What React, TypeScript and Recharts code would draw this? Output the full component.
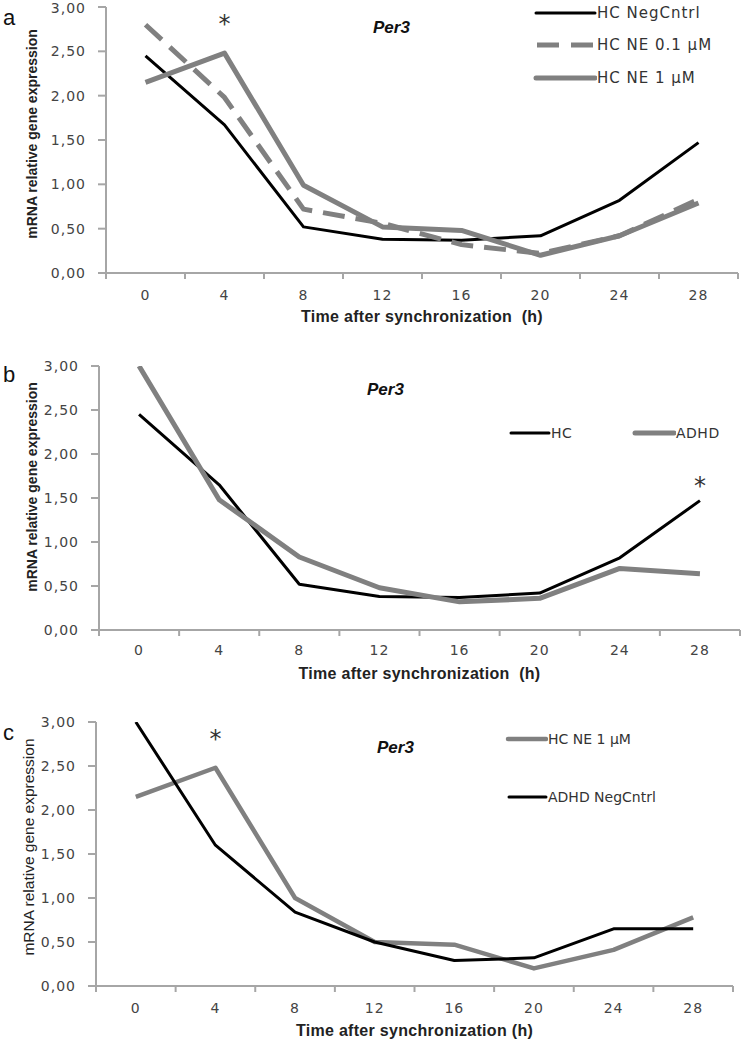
import { Label, Legend, Line, LineChart, ReferenceDot, XAxis, YAxis } from "recharts";

const hours = [0, 4, 8, 12, 16, 20, 24, 28];
const yTicks = [0, 0.5, 1, 1.5, 2, 2.5, 3];
const xTicks = [-2, 0, 2, 4, 6, 8, 10, 12, 14, 16, 18, 20, 22, 24, 26, 28, 30];

// panel a
const hcNegCntrlA = [2.45, 1.67, 0.52, 0.38, 0.37, 0.42, 0.82, 1.47];
const hcNe01A = [2.8, 1.98, 0.72, 0.56, 0.32, 0.22, 0.42, 0.83];
const hcNe1A = [2.15, 2.48, 0.99, 0.52, 0.48, 0.2, 0.42, 0.79];
// panel b
const hcB = [2.45, 1.65, 0.52, 0.38, 0.37, 0.42, 0.82, 1.47];
const adhdB = [3.0, 1.48, 0.83, 0.48, 0.32, 0.36, 0.7, 0.64];
// panel c
const hcNe1C = [2.15, 2.48, 1.0, 0.5, 0.47, 0.2, 0.41, 0.78];
const adhdNegCntrlC = [3.0, 1.6, 0.84, 0.5, 0.29, 0.32, 0.65, 0.65];

const AXIS = "#a6a6a6";
const GRAY = "#808080";
const TICK_FONT = "'DejaVu Sans', sans-serif";

type Series = {
  key: string;
  name: string;
  values: number[];
  color: string;
  width: number;
  dash?: string;
  lx: number;
  ly: number;
  len: number;
};

type PanelProps = {
  top: number;
  height: number;
  plot: { left: number; right: number; top: number; bottom: number };
  series: Series[];
  letter: string;
  letterY: number;
  per3: { x: number; y: number };
  star: { x: number; y: number };
  yLabel: { x: number; y: number; bold: boolean; size: number };
  title: string;
  tickDy: number;
  titleOffset: number;
  legendFont: number;
  legendSpacing: number;
};

const panels: PanelProps[] = [
  {
    top: 0,
    height: 335,
    plot: { left: 106, right: 738, top: 7, bottom: 273 },
    series: [
      { key: "negA", name: "HC NegCntrl", values: hcNegCntrlA, color: "#000", width: 3, lx: 533, ly: 13, len: 64 },
      { key: "ne01A", name: "HC NE 0.1 µM", values: hcNe01A, color: GRAY, width: 5, dash: "22 11", lx: 533, ly: 45, len: 64 },
      { key: "ne1A", name: "HC NE 1 µM", values: hcNe1A, color: GRAY, width: 5, lx: 533, ly: 78, len: 64 },
    ],
    letter: "a",
    letterY: 18,
    per3: { x: 373, y: 28 },
    star: { x: 4, y: 2.85 },
    yLabel: { x: 32, y: 134, bold: true, size: 14 },
    title: "Time after synchronization\u00a0\u00a0(h)",
    tickDy: 14,
    titleOffset: 1,
    legendFont: 15,
    legendSpacing: 1,
  },
  {
    top: 335,
    height: 352,
    plot: { left: 99, right: 740, top: 366, bottom: 630 },
    series: [
      { key: "hcB", name: "HC", values: hcB, color: "#000", width: 3, lx: 508, ly: 433, len: 43 },
      { key: "adhdB", name: "ADHD", values: adhdB, color: GRAY, width: 5, lx: 632, ly: 433, len: 44 },
    ],
    letter: "b",
    letterY: 375,
    per3: { x: 367, y: 390 },
    star: { x: 28, y: 1.68 },
    yLabel: { x: 32, y: 487, bold: true, size: 14 },
    title: "Time after synchronization\u00a0\u00a0(h)",
    tickDy: 12,
    titleOffset: 1,
    legendFont: 14,
    legendSpacing: 0.5,
  },
  {
    top: 680,
    height: 363,
    plot: { left: 96, right: 733, top: 722, bottom: 986 },
    series: [
      { key: "ne1C", name: "HC NE 1 µM", values: hcNe1C, color: GRAY, width: 4.5, lx: 505, ly: 739, len: 43 },
      { key: "adhdC", name: "ADHD NegCntrl", values: adhdNegCntrlC, color: "#000", width: 3, lx: 506, ly: 797, len: 42 },
    ],
    letter: "c",
    letterY: 733,
    per3: { x: 377, y: 748 },
    star: { x: 4, y: 2.85 },
    yLabel: { x: 28, y: 847, bold: false, size: 15.5 },
    title: "Time after synchronization (h)",
    tickDy: 14,
    titleOffset: 0,
    legendFont: 14,
    legendSpacing: 0,
  },
];

function XTick(props: any) {
  const { x, y, payload, dy } = props;
  const v = payload.value as number;
  if (v % 4 === 0) {
    return (
      <text x={x} y={y + dy} textAnchor="middle" dominantBaseline="central" fontSize={14} fontFamily={TICK_FONT} fill="#444" letterSpacing={1}>
        {v}
      </text>
    );
  }
  return <line x1={x} x2={x} y1={y - 8} y2={y - 2} stroke={AXIS} strokeWidth={2} />;
}

function Panel(p: PanelProps) {
  const data = hours.map((h, i) => {
    const row: Record<string, number> = { t: h };
    p.series.forEach((s) => (row[s.key] = s.values[i]));
    return row;
  });
  const yAxisWidth = 60;
  const xAxisHeight = 50;
  const margin = {
    top: p.plot.top - p.top,
    left: p.plot.left - yAxisWidth,
    right: 745 - p.plot.right,
    bottom: p.top + p.height - p.plot.bottom - xAxisHeight,
  };

  const legend = () => (
    <div style={{ position: "relative", width: 745, height: 0 }}>
      {p.series.map((s) => (
        <div
          key={s.key}
          style={{
            position: "absolute",
            left: s.lx,
            top: s.ly - p.top - 10,
            height: 20,
            display: "flex",
            alignItems: "center",
            whiteSpace: "nowrap",
            fontFamily: TICK_FONT,
            fontSize: p.legendFont,
            letterSpacing: p.legendSpacing,
            color: "#333",
          }}
        >
          <svg width={s.len} height={20}>
            <line
              x1={s.dash ? 4 : 3}
              x2={s.len - 2}
              y1={10}
              y2={10}
              stroke={s.color}
              strokeWidth={s.width}
              strokeLinecap={s.dash ? "butt" : "round"}
              strokeDasharray={s.dash ? "22 12" : undefined}
            />
          </svg>
          <span>{s.name}</span>
        </div>
      ))}
    </div>
  );

  return (
    <div style={{ position: "absolute", left: 0, top: p.top }}>
      <LineChart width={745} height={p.height} data={data} margin={margin}>
        <XAxis
          dataKey="t"
          type="number"
          domain={[-2, 30]}
          ticks={xTicks}
          interval={0}
          height={xAxisHeight}
          stroke={AXIS}
          strokeWidth={2}
          tickLine={false}
          tick={<XTick dy={p.tickDy} />}
        >
          <Label
            value={p.title}
            position="insideBottom"
            offset={p.titleOffset}
            style={{ fontFamily: "'Liberation Sans', sans-serif", fontWeight: 700, fontSize: 16, fill: "#222", letterSpacing: 0.3 }}
          />
        </XAxis>
        <YAxis
          type="number"
          domain={[0, 3]}
          ticks={yTicks}
          width={yAxisWidth}
          stroke={AXIS}
          strokeWidth={2}
          tickSize={8}
          tickMargin={12}
          tickFormatter={(v: number) => v.toFixed(2).replace(".", ",")}
          tick={{ fontSize: 14, fontFamily: TICK_FONT, fill: "#444", letterSpacing: 1 }}
          allowDataOverflow
        >
          <Label
            content={() => (
              <text
                x={p.yLabel.x}
                y={p.yLabel.y - p.top}
                transform={`rotate(-90 ${p.yLabel.x} ${p.yLabel.y - p.top})`}
                textAnchor="middle"
                dominantBaseline="central"
                fontFamily="'Liberation Sans', sans-serif"
                fontWeight={p.yLabel.bold ? 700 : 400}
                fontSize={p.yLabel.size}
                fill="#222"
              >
                mRNA relative gene expression
              </text>
            )}
          />
        </YAxis>
        <Legend layout="vertical" align="center" verticalAlign="middle" wrapperStyle={{ left: 0, top: 0, width: 745 }} content={legend} />
        {p.series.map((s) => (
          <Line
            key={s.key}
            dataKey={s.key}
            name={s.name}
            type="linear"
            stroke={s.color}
            strokeWidth={s.width}
            strokeDasharray={s.dash}
            strokeLinejoin="round"
            dot={false}
            activeDot={false}
            isAnimationActive={false}
          />
        ))}
        <ReferenceDot
          x={p.star.x}
          y={p.star.y}
          r={0}
          shape={(d: any) => (
            <text x={d.cx} y={d.cy + 12} textAnchor="middle" fontSize={24} fontFamily={TICK_FONT} fill="#333">
              *
            </text>
          )}
        />
      </LineChart>
    </div>
  );
}

export default function App() {
  return (
    <div style={{ position: "absolute", left: 0, top: 0, width: 745, height: 1043, background: "#fff" }}>
      {panels.map((p) => (
        <Panel key={p.letter} {...p} />
      ))}
      {panels.map((p) => (
        <div key={"l" + p.letter}>
          <div
            style={{
              position: "absolute",
              left: 3,
              top: p.letterY - 13,
              fontFamily: "'Liberation Sans', sans-serif",
              fontSize: 22,
              lineHeight: "26px",
              color: "#111",
            }}
          >
            {p.letter}
          </div>
          <div
            style={{
              position: "absolute",
              left: p.per3.x,
              top: p.per3.y - 10,
              fontFamily: "'Liberation Sans', sans-serif",
              fontSize: 17,
              lineHeight: "20px",
              fontWeight: 700,
              fontStyle: "italic",
              color: "#111",
            }}
          >
            Per3
          </div>
        </div>
      ))}
    </div>
  );
}
